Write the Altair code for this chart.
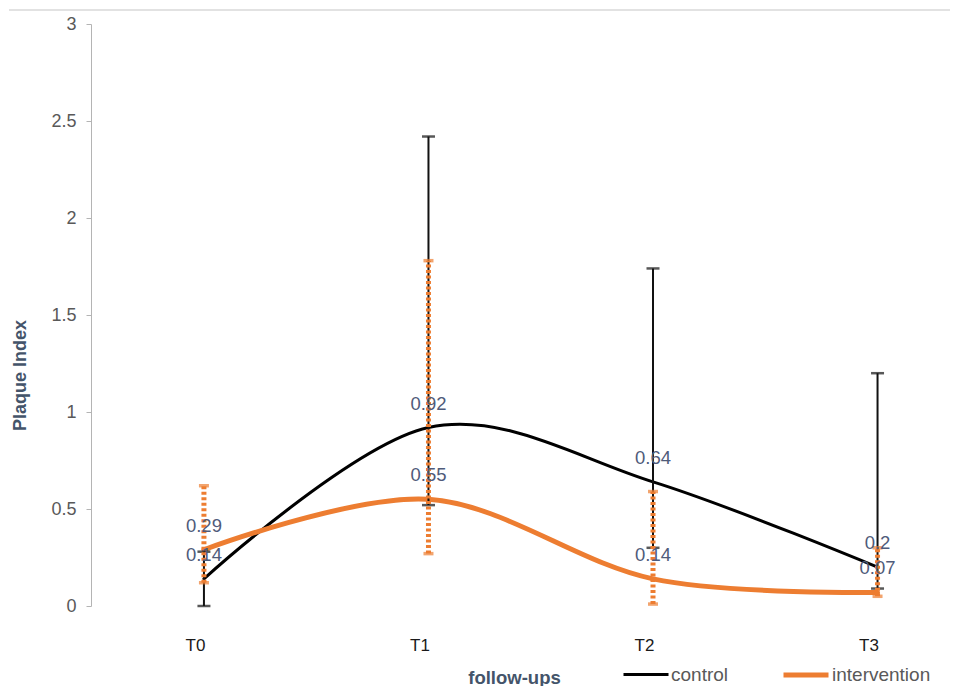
import altair as alt
import pandas as pd

# ---- data ----
categories = ["T0", "T1", "T2", "T3"]
control_mean = [0.14, 0.92, 0.64, 0.2]
control_low = [0.0, 0.52, 0.30, 0.09]
control_high = [0.28, 2.42, 1.74, 1.2]
interv_mean = [0.29, 0.55, 0.14, 0.07]
interv_low = [0.12, 0.27, 0.01, 0.05]
interv_high = [0.62, 1.78, 0.59, 0.30]
series_names = ["control", "intervention"]
series_colors = ["#000000", "#ED7D31"]

rows = []
for i, c in enumerate(categories):
    rows.append(dict(idx=i, cat=c, series="control", mean=control_mean[i],
                     low=control_low[i], high=control_high[i]))
    rows.append(dict(idx=i, cat=c, series="intervention", mean=interv_mean[i],
                     low=interv_low[i], high=interv_high[i]))
df = pd.DataFrame(rows)

W, H = 853, 582
FONT = "Liberation Sans"

label_expr = "[" + ",".join("'%s'" % c for c in categories) + "][datum.value]"

x = alt.X("idx:Q",
          scale=alt.Scale(domain=[-0.503, 3.296], nice=False, zero=False),
          axis=alt.Axis(values=list(range(len(categories))), labelExpr=label_expr,
                        domain=False, ticks=False, grid=False, labelPadding=31,
                        labelOffset=-9, labelFont=FONT, labelFontSize=17,
                        labelColor="#1a1a1a", title="follow-ups",
                        titleFont=FONT, titleFontSize=18.5, titleFontWeight="bold",
                        titleColor="#44546A", titleX=423, titleY=71,
                        titleBaseline="middle"))
y = alt.Y("mean:Q",
          scale=alt.Scale(domain=[0, 3], nice=False),
          axis=alt.Axis(values=[0, 0.5, 1, 1.5, 2, 2.5, 3], format="~g",
                        grid=False, domainColor="#B4B4B4", tickColor="#B4B4B4",
                        tickSize=5, labelPadding=10, labelFont=FONT,
                        labelFontSize=18, labelColor="#595959",
                        title="Plaque Index", titleFont=FONT, titleFontSize=18,
                        titleFontWeight="bold", titleColor="#44546A",
                        titleX=-71, titleY=351, titleBaseline="middle"))

base = alt.Chart(df)

lines = base.mark_line(interpolate="cardinal", tension=0, strokeCap="round").encode(
    x=x, y=y,
    color=alt.Color("series:N", scale=alt.Scale(domain=series_names, range=series_colors),
                    legend=alt.Legend(title=None, orient="none", direction="horizontal",
                                      legendX=531, legendY=626, symbolType="stroke",
                                      symbolSize=2025, labelFont=FONT, labelFontSize=19,
                                      labelColor="#595959", labelOffset=1,
                                      columnPadding=44)),
    strokeWidth=alt.StrokeWidth("series:N",
                                scale=alt.Scale(domain=series_names, range=[3, 5]),
                                legend=alt.Legend(title=None, orient="none")),
)

ctrl = base.transform_filter(alt.datum.series == "control")
intv = base.transform_filter(alt.datum.series == "intervention")

ctrl_bar = ctrl.mark_rule(color="#111111", strokeWidth=2).encode(
    x="idx:Q", y="low:Q", y2="high:Q")
ctrl_cap_hi = ctrl.mark_tick(orient="horizontal", color="#111111", size=13, thickness=2.5).encode(
    x="idx:Q", y="high:Q")
ctrl_cap_lo = ctrl.mark_tick(orient="horizontal", color="#111111", size=13, thickness=2.5).encode(
    x="idx:Q", y="low:Q")

int_bar = intv.mark_rule(color="#ED7D31", strokeWidth=5, strokeDash=[3, 2.5]).encode(
    x="idx:Q", y="low:Q", y2="high:Q")
int_cap_hi = intv.mark_tick(orient="horizontal", color="#ED7D31", size=10, thickness=3.5).encode(
    x="idx:Q", y="high:Q")
int_cap_lo = intv.mark_tick(orient="horizontal", color="#ED7D31", size=10, thickness=3.5).encode(
    x="idx:Q", y="low:Q")

labels = base.mark_text(font=FONT, fontSize=18.5, color="#4F5B7A", dy=-24,
                        baseline="middle", align="center").encode(
    x="idx:Q", y="mean:Q", text=alt.Text("mean:Q", format=".2~f"))

top_line = alt.Chart(pd.DataFrame({"a": [0]})).mark_rule(
    color="#D9D9D9", strokeWidth=1.5).encode(
    x=alt.value(-82), x2=alt.value(880), y=alt.value(-14))

chart = alt.layer(
    top_line, lines, ctrl_bar, ctrl_cap_hi, ctrl_cap_lo,
    int_bar, int_cap_hi, int_cap_lo, labels
).properties(
    width=W, height=H,
    background="white",
    autosize=alt.AutoSizeParams(type="none"),
    padding={"left": 83, "top": 16, "right": 6, "bottom": 80},
).configure_view(stroke=None)

chart.save("out.html", embed_options={"renderer": "svg", "actions": False})
